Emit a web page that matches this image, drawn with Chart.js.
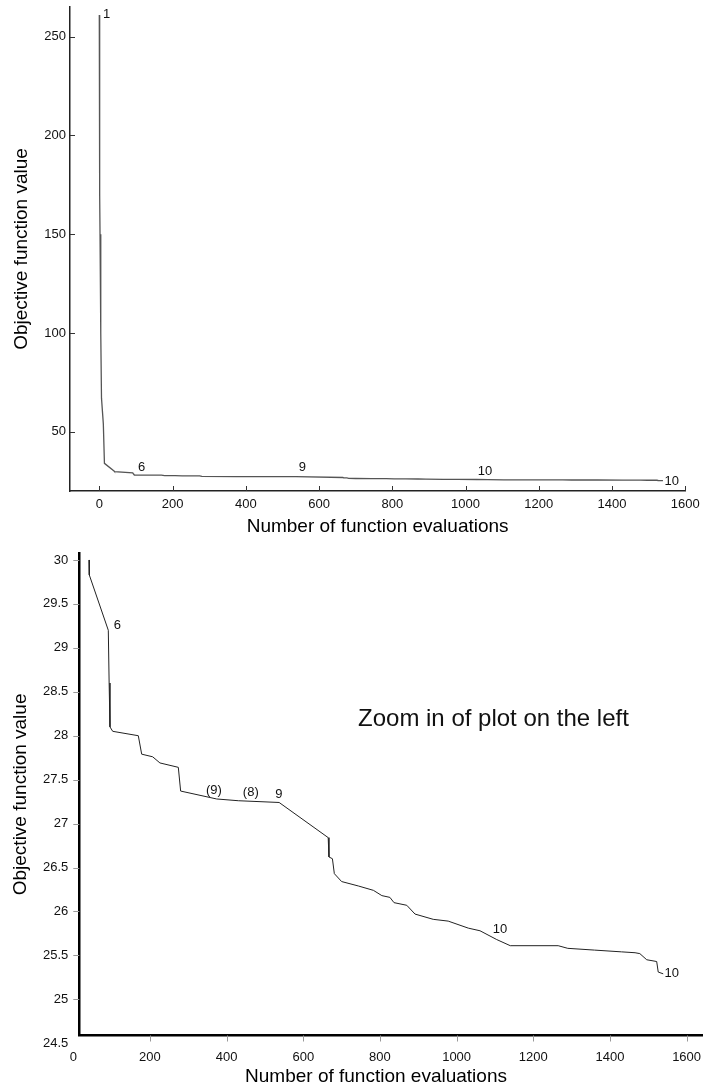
<!DOCTYPE html>
<html><head><meta charset="utf-8">
<script src="https://cdn.jsdelivr.net/npm/chart.js@4.4.1/dist/chart.umd.min.js"></script>
<style>
html,body{margin:0;padding:0;background:#fff;}
#wrap{position:relative;width:703px;height:1087px;overflow:hidden;background:#fff;}
canvas{position:absolute;left:0;}
#c1{top:0;} #c2{top:540px;}
</style></head><body>
<div id="wrap"><canvas id="c1" width="703" height="545"></canvas><canvas id="c2" width="703" height="547"></canvas></div>
<script>
const FONT = "'Liberation Sans', Arial, Helvetica, sans-serif";

// ---- data ----
// initial descent, visible only in the full plot
const earlyEvals  = [0, 1, 2, 4, 6, 11, 14];
const earlyValues = [261, 170, 150, 100, 67, 54, 34];
// rest of the history (shown in both plots)
const evals  = [41, 41.7, 91.3, 93.5, 95.7, 102.8, 169.6, 178.4, 207, 226, 274, 280, 374, 430.5, 537, 665, 667, 676, 681, 700, 743.5, 783, 805, 826, 836.7, 870, 891.5, 939, 978, 1030.5, 1061, 1104.6, 1140, 1265, 1290, 1360, 1430, 1465.5, 1478, 1496, 1522, 1526, 1539];
const values = [30.0, 29.83, 29.2, 28.6, 28.1, 28.05, 28.0, 27.79, 27.76, 27.69, 27.64, 27.37, 27.28, 27.26, 27.24, 26.84, 26.62, 26.6, 26.43, 26.34, 26.29, 26.24, 26.18, 26.16, 26.1, 26.07, 25.97, 25.91, 25.89, 25.81, 25.78, 25.68, 25.61, 25.61, 25.58, 25.56, 25.54, 25.53, 25.52, 25.45, 25.43, 25.31, 25.29];

// tick labels
const fullXTicks = [0, 200, 400, 600, 800, 1000, 1200, 1400, 1600];
const fullYTicks = [50, 100, 150, 200, 250];
const zoomXTicks = [0, 200, 400, 600, 800, 1000, 1200, 1400, 1600];
const zoomYTicks = [24.5, 25, 25.5, 26, 26.5, 27, 27.5, 28, 28.5, 29, 29.5, 30];

// annotations on the curves
const fullNoteText = ['1', '6', '9', '10', '10'];
const fullNoteX    = [20, 115.6, 554.6, 1053, 1563];
const fullNoteY    = [261, 31.97, 31.77, 29.75, 25.0];
const zoomNoteText = ['6', '(9)', '(8)', '9', '10', '10'];
const zoomNoteX    = [114.8, 367, 463, 536, 1113, 1561];
const zoomNoteY    = [29.25, 27.38, 27.36, 27.33, 25.79, 25.29];
const zoomCaption  = 'Zoom in of plot on the left';
const zoomCaptionX = 742.8;
const zoomCaptionY = 28.11;

const xTitle = 'Number of function evaluations';
const yTitle = 'Objective function value';

// ---- helpers ----
const fullPoints = earlyEvals.map((x, i) => ({x, y: earlyValues[i]}))
  .concat(evals.map((x, i) => ({x, y: values[i]})));
const zoomPoints = evals.map((x, i) => ({x, y: values[i]}));

const decor = {
  id: 'decor',
  afterDraw(chart, args, o) {
    const ctx = chart.ctx, xs = chart.scales.x, ys = chart.scales.y;
    ctx.save();
    ctx.strokeStyle = o.tickColor; ctx.lineWidth = 1;
    const dir = o.inward ? -1 : 1, L = o.tickLen;
    xs.ticks.forEach(t => {
      if (t.value < xs.min || t.value > xs.max) return;
      const px = Math.round(xs.getPixelForValue(t.value)) + 0.5;
      ctx.beginPath(); ctx.moveTo(px, xs.top); ctx.lineTo(px, xs.top + dir * L); ctx.stroke();
    });
    ys.ticks.forEach(t => {
      if (t.value < ys.min || t.value > ys.max) return;
      const py = Math.round(ys.getPixelForValue(t.value)) + 0.5;
      ctx.beginPath(); ctx.moveTo(ys.right, py); ctx.lineTo(ys.right - dir * L, py); ctx.stroke();
    });
    ctx.fillStyle = '#111';
    ctx.font = '13px ' + FONT; ctx.textAlign = 'center'; ctx.textBaseline = 'middle';
    o.noteText.forEach((s, i) => ctx.fillText(s, xs.getPixelForValue(o.noteX[i]), ys.getPixelForValue(o.noteY[i])));
    if (o.caption) {
      ctx.font = '24px ' + FONT; ctx.textAlign = 'left'; ctx.textBaseline = 'alphabetic';
      ctx.fillText(o.caption, xs.getPixelForValue(o.captionX), ys.getPixelForValue(o.captionY));
    }
    if (o.xTitle) {
      ctx.fillStyle = '#000';
      ctx.font = '19px ' + FONT; ctx.textAlign = 'center'; ctx.textBaseline = 'middle';
      ctx.fillText(o.xTitle, o.xTitlePos[0], o.xTitlePos[1]);
    }
    ctx.restore();
  }
};

Chart.defaults.font.family = FONT;

function tickFont() { return {family: FONT, size: 13}; }
function fixX(h) { return s => { s.height = h; s.paddingLeft = 0; s.paddingRight = 0; }; }
function fixY(w) { return s => { s.width = w; s.paddingTop = 0; s.paddingBottom = 0; }; }

new Chart(document.getElementById('c1'), {
  type: 'line',
  data: { datasets: [{ data: fullPoints, borderColor: '#555', borderWidth: 1.3, pointRadius: 0, tension: 0, fill: false }] },
  options: {
    responsive: false, animation: false, devicePixelRatio: 1, events: [],
    layout: { padding: { top: 7, right: 17.7, left: 0, bottom: 0 } },
    plugins: {
      legend: { display: false }, tooltip: { enabled: false },
      decor: { inward: true, tickLen: 5, tickColor: '#333', noteText: fullNoteText, noteX: fullNoteX, noteY: fullNoteY }
    },
    scales: {
      x: {
        type: 'linear', min: -80, max: 1600,
        afterBuildTicks: s => { s.ticks = fullXTicks.map(v => ({value: v})); },
        afterFit: fixX(54),
        grid: { display: false, drawTicks: false },
        border: { display: true, color: '#222', width: 1.5 },
        ticks: { padding: 6, color: '#111', font: tickFont(), autoSkip: false, maxRotation: 0, callback: v => String(v) },
        title: { display: true, text: xTitle, color: '#000', font: {family: FONT, size: 19, lineHeight: 1}, padding: {top: 0, bottom: 8.5} }
      },
      y: {
        type: 'linear', min: 20, max: 265,
        afterBuildTicks: s => { s.ticks = fullYTicks.map(v => ({value: v})); },
        afterFit: fixY(70),
        grid: { display: false, drawTicks: false },
        border: { display: true, color: '#222', width: 1.5 },
        ticks: { padding: 4, color: '#111', font: tickFont(), autoSkip: false, callback: v => String(v) },
        title: { display: true, text: yTitle, color: '#000', font: {family: FONT, size: 19, lineHeight: 1}, padding: {top: 12.5, bottom: 0} }
      }
    }
  },
  plugins: [decor]
});

new Chart(document.getElementById('c2'), {
  type: 'line',
  data: { datasets: [{ data: zoomPoints, borderColor: '#222', borderWidth: 1, pointRadius: 0, tension: 0, fill: false }] },
  options: {
    responsive: false, animation: false, devicePixelRatio: 1, events: [],
    layout: { padding: { top: 13.3, right: 0, left: 0, bottom: 0 } },
    plugins: {
      legend: { display: false }, tooltip: { enabled: false },
      decor: { inward: false, tickLen: 6, tickColor: '#999', noteText: zoomNoteText, noteX: zoomNoteX, noteY: zoomNoteY,
               caption: zoomCaption, captionX: zoomCaptionX, captionY: zoomCaptionY,
               xTitle: xTitle, xTitlePos: [376, 537] }
    },
    scales: {
      x: {
        type: 'linear', min: 15.65, max: 1642.8,
        afterBuildTicks: s => { s.ticks = zoomXTicks.map(v => ({value: v})); },
        afterFit: fixX(51.5),
        grid: { display: false, drawTicks: false },
        border: { display: true, color: '#000', width: 2.5 },
        ticks: { padding: 14, color: '#111', font: tickFont(), autoSkip: false, maxRotation: 0, callback: v => String(v) },
        title: { display: false }
      },
      y: {
        type: 'linear', min: 24.588, max: 30.076,
        afterBuildTicks: s => { s.ticks = zoomYTicks.map(v => ({value: v})); },
        afterFit: fixY(79.3),
        grid: { display: false, drawTicks: false },
        border: { display: true, color: '#000', width: 2.5 },
        ticks: { padding: 11, color: '#111', font: tickFont(), autoSkip: false, callback: v => String(v) },
        title: { display: true, text: yTitle, color: '#000', font: {family: FONT, size: 19, lineHeight: 1}, padding: {top: 11.5, bottom: 0} }
      }
    }
  },
  plugins: [decor]
});
</script>
</body></html>
